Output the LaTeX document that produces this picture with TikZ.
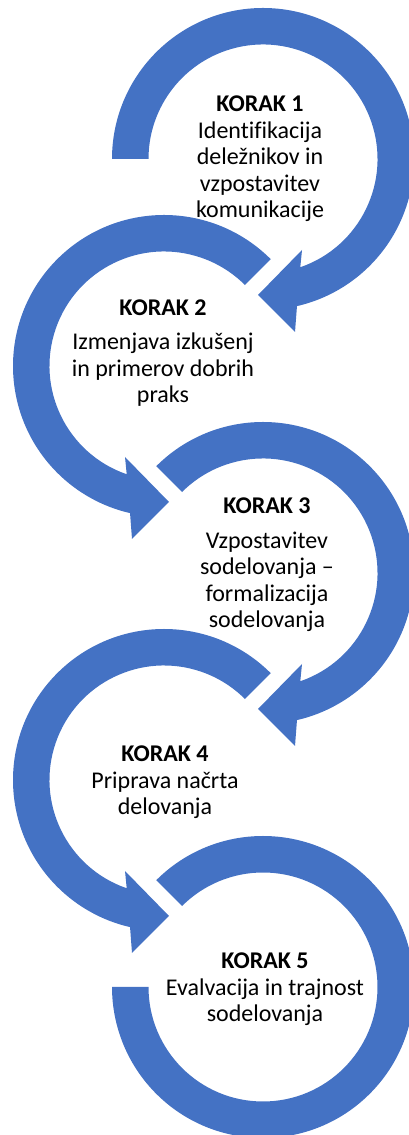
\documentclass[tikz,border=0pt]{standalone}
\usepackage{fontspec}
\setmainfont[Ligatures=NoCommon]{Carlito}
\definecolor{ringblue}{RGB}{68,114,196}
\tikzset{
  ring/.style={fill=ringblue, draw=none},
  steptext/.style={align=center, inner sep=0pt, anchor=base, font=\fontsize{24}{26.5}\selectfont}
}
\begin{document}
\begin{tikzpicture}[x=1pt,y=1pt]
\useasboundingbox (0,0) rectangle (409,1135);
\clip (0,0) rectangle (409,1135);
\coordinate (c1) at (263,976);
\coordinate (c2) at (164,769);
\coordinate (c3) at (263,562);
\coordinate (c4) at (164,355);
\coordinate (c5) at (263,148);
% circle 1 (clockwise, starts at left)
\begin{scope}[shift={(c1)}]
\fill[ring] (180:151) arc[start angle=180, end angle=-77, radius=151]
  -- (32,-173) -- (-5,-136) -- (39,-91) -- (-71:114.5)
  arc[start angle=-71, end angle=180, radius=114.5] -- cycle;
\end{scope}
% circle 2 (counter-clockwise, starts at upper right)
\begin{scope}[shift={(c2)}]
\fill[ring] (45:151) arc[start angle=45, end angle=257, radius=151]
  -- (-32,-173) -- (5,-136) -- (-39,-91) -- (251:114.5)
  arc[start angle=251, end angle=45, radius=114.5] -- cycle;
\end{scope}
% circle 3
\begin{scope}[shift={(c3)}]
\fill[ring] (135:151) arc[start angle=135, end angle=-77, radius=151]
  -- (32,-173) -- (-5,-136) -- (39,-91) -- (-71:114.5)
  arc[start angle=-71, end angle=135, radius=114.5] -- cycle;
\end{scope}
% circle 4
\begin{scope}[shift={(c4)}]
\fill[ring] (45:151) arc[start angle=45, end angle=257, radius=151]
  -- (-32,-173) -- (5,-136) -- (-39,-91) -- (251:114.5)
  arc[start angle=251, end angle=45, radius=114.5] -- cycle;
\end{scope}
% circle 5 (no arrowhead)
\begin{scope}[shift={(c5)}]
\fill[ring] (135:151) arc[start angle=135, end angle=-180, radius=151]
  -- (-180:114.5) arc[start angle=-180, end angle=135, radius=114.5] -- cycle;
\end{scope}
% texts (anchored at the baseline of their last line)
\node[steptext] (t1) at (260,917) {\textbf{KORAK 1}\\Identifikacija\\deležnikov in\\vzpostavitev\\komunikacije};
\node[steptext] (t2) at (163,732) {\textbf{KORAK 2}\\[8pt]Izmenjava izkušenj\\in primerov dobrih\\praks};
\node[steptext] (t3) at (267,507) {\textbf{KORAK 3}\\[8pt]Vzpostavitev\\sodelovanja –\\formalizacija\\sodelovanja};
\node[steptext] (t4) at (165,320) {\textbf{KORAK 4}\\Priprava načrta\\delovanja};
\node[steptext] (t5) at (265,113) {\textbf{KORAK 5}\\Evalvacija in trajnost\\sodelovanja};
\end{tikzpicture}
\end{document}
